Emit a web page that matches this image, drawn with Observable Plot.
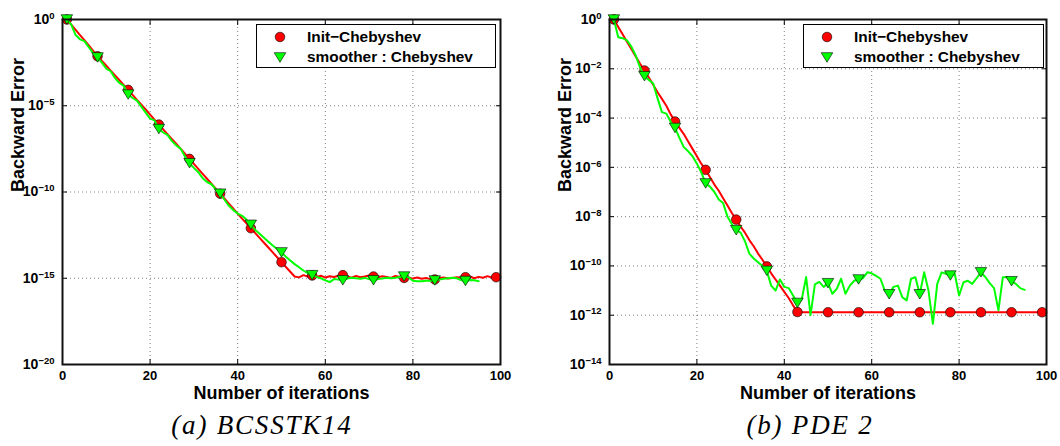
<!DOCTYPE html>
<html>
<head>
<meta charset="utf-8">
<script src="https://cdn.jsdelivr.net/npm/d3@7"></script>
<script src="https://cdn.jsdelivr.net/npm/@observablehq/plot@0.6"></script>
<style>
  body { margin: 0; background: #fff; }
  #root { position: relative; width: 1060px; height: 446px; overflow: hidden; font-family: "Liberation Sans", Arial, sans-serif; }
  .chart { position: absolute; top: 0; }
  .legend { position: absolute; border: 1px solid #000; background: #fff; box-sizing: border-box; height: 44px; font-weight: bold; font-size: 15.4px; }
  .legend .row { position: absolute; left: 0; height: 20px; line-height: 20px; white-space: nowrap; }
  .legend svg { position: absolute; top: 0; }
  .caption { position: absolute; font-family: "Liberation Serif", "DejaVu Serif", serif; font-style: italic; font-size: 27px; letter-spacing: 1.8px; text-align: center; width: 320px; line-height: 30px; white-space: nowrap; }
</style>
</head>
<body>
<div id="root"></div>
<script>
// ---------------- data ----------------
const xTicks = [0, 20, 40, 60, 80, 100];
const yTicksA = [1e-20, 1e-15, 1e-10, 1e-5, 1];
const yTicksB = [1e-14, 1e-12, 1e-10, 1e-8, 1e-6, 1e-4, 1e-2, 1];
const markerIters = [1, 8, 15, 22, 29, 36, 43, 50, 57, 64, 71, 78, 85, 92, 99];
const seriesNames = ["Init\u2212Chebyshev", "smoother : Chebyshev"];
const captions = ["(a) BCSSTK14", "(b) PDE 2"];

// log10 of backward error, iterations 1..n
// (a) BCSSTK14
const initChebA = [0, -0.3, -0.6, -0.9, -1.2, -1.5, -1.82, -2.13, -2.4, -2.68,
  -2.96, -3.24, -3.52, -3.8, -4.08, -4.37, -4.66, -4.94, -5.22, -5.51,
  -5.8, -6.09, -6.37, -6.66, -6.94, -7.22, -7.5, -7.79, -8.08, -8.37,
  -8.66, -8.95, -9.23, -9.52, -9.81, -10.1, -10.39, -10.67, -10.96, -11.25,
  -11.54, -11.82, -12.1, -12.38, -12.66, -12.94, -13.22, -13.5, -13.78, -14.07,
  -14.35, -14.62, -14.9, -14.95, -14.82, -14.9, -14.84, -14.92, -14.85, -14.96,
  -14.88, -14.93, -14.86, -14.82, -14.9, -14.97, -14.86, -14.94, -14.9, -14.84,
  -14.9, -14.95, -14.88, -14.93, -14.98, -14.87, -14.93, -14.98, -14.95, -15.02,
  -14.96, -15.03, -14.99, -15.05, -15.07, -15.0, -14.96, -15.02, -14.98, -14.94,
  -14.97, -14.94, -14.9, -15.0, -14.92, -14.97, -14.88, -14.95, -14.94];
const smootherA = [0, -0.3, -0.9, -1.15, -1.25, -1.6, -1.95, -2.2, -2.5, -2.85,
  -3.0, -3.4, -3.68, -3.85, -4.35, -4.55, -4.7, -5.05, -5.4, -5.75,
  -5.85, -6.35, -6.55, -6.7, -7.05, -7.3, -7.5, -7.95, -8.33, -8.6,
  -8.85, -9.2, -9.42, -9.55, -9.85, -10.1, -10.45, -10.8, -11.05, -11.25,
  -11.38, -11.6, -11.9, -12.2, -12.42, -12.65, -12.88, -13.1, -13.3, -13.5,
  -13.75, -13.97, -14.18, -14.36, -14.55, -14.7, -14.82, -14.92, -15.0, -15.12,
  -15.22, -15.05, -15.08, -15.12, -15.02, -14.97, -15.0, -15.03, -14.98, -15.05,
  -15.12, -15.05, -15.02, -14.97, -15.0, -14.97, -14.93, -14.9, -14.94, -15.15,
  -15.17, -15.17, -15.15, -15.14, -15.13, -15.08, -15.03, -15.0, -14.97, -15.0,
  -15.1, -15.16, -15.1, -15.12, -15.17];
// (b) PDE 2
const initChebB = [0, -0.3, -0.6, -0.9, -1.2, -1.5, -1.8, -2.07, -2.35, -2.65,
  -2.95, -3.22, -3.5, -3.85, -4.14, -4.4, -4.65, -4.95, -5.25, -5.55,
  -5.85, -6.1, -6.4, -6.7, -6.95, -7.25, -7.55, -7.85, -8.12, -8.4,
  -8.65, -8.95, -9.2, -9.5, -9.75, -10.02, -10.3, -10.55, -10.8, -11.05,
  -11.3, -11.6, -11.87, -11.88, -11.88, -11.88, -11.88, -11.88, -11.88, -11.88,
  -11.88, -11.88, -11.88, -11.88, -11.88, -11.88, -11.88, -11.88, -11.88, -11.88,
  -11.88, -11.88, -11.88, -11.88, -11.88, -11.88, -11.88, -11.88, -11.88, -11.88,
  -11.88, -11.88, -11.88, -11.88, -11.88, -11.88, -11.88, -11.88, -11.88, -11.88,
  -11.88, -11.88, -11.88, -11.88, -11.88, -11.88, -11.88, -11.88, -11.88, -11.88,
  -11.88, -11.88, -11.88, -11.88, -11.88, -11.88, -11.88, -11.88, -11.88];
const smootherB = [0, -0.72, -0.76, -0.85, -1.1, -1.46, -1.95, -2.3, -2.45, -2.6,
  -3.2, -3.76, -3.82, -4.15, -4.4, -4.8, -5.18, -5.35, -5.55, -5.85,
  -6.2, -6.65, -6.78, -7.0, -7.3, -7.45, -8.0, -8.3, -8.55, -8.65,
  -9.0, -9.5, -9.7, -9.85, -10.0, -10.2, -10.8, -11.0, -10.55, -10.85,
  -10.9, -11.2, -11.5, -11.35, -10.45, -12.0, -10.75, -10.65, -10.85, -10.7,
  -11.13, -10.93, -10.52, -11.13, -10.8, -10.6, -10.55, -10.5, -10.26, -10.3,
  -10.4, -10.52, -11.0, -11.15, -10.85, -10.8, -11.27, -11.4, -10.52, -10.46,
  -11.15, -10.26, -11.0, -12.35, -10.73, -10.26, -10.32, -10.39, -10.32, -11.2,
  -10.66, -10.6, -10.73, -10.5, -10.26, -10.45, -10.7, -10.9, -11.8, -10.46,
  -10.46, -10.62, -10.73, -10.9, -10.97];

// ---------------- helpers ----------------
const toRows = (arr) => arr.map((e, i) => ({it: i + 1, v: Math.pow(10, e)}));
const onMarkers = (rows) => rows.filter(d => markerIters.includes(d.it));
const triDown = {
  draw(ctx, size) {
    const r = Math.sqrt(size / Math.PI);
    const w = r * 1.15, h = r * 0.95;
    ctx.moveTo(-w, -h);
    ctx.lineTo(w, -h);
    ctx.lineTo(0, h);
    ctx.closePath();
  }
};
const RED = "#ff0000", GREEN = "#00ff00";
const FONT = "'Liberation Sans', Arial, sans-serif";

function supFormat(d) {
  const e = Math.round(Math.log10(d));
  return "10^" + (e === 0 ? "0" : "\u2212" + Math.abs(e));
}

function makeChart({red, green, yTicks, yDomain, marginLeft, marginRight}) {
  const redRows = toRows(red), greenRows = toRows(green);
  const grid = {stroke: "#000", strokeOpacity: 0.5, strokeDasharray: "1,3", strokeWidth: 1};
  const svg = Plot.plot({
    width: 530,
    height: 410,
    marginLeft, marginRight,
    marginTop: 19,
    marginBottom: 46,
    style: {fontFamily: FONT, fontWeight: "bold", fontSize: "12.5px", background: "transparent", overflow: "visible", color: "#000"},
    x: {domain: [0, 100]},
    y: {type: "log", domain: yDomain},
    marks: [
      Plot.gridX(xTicks.slice(1, -1), grid),
      Plot.gridY(yTicks.slice(1, -1), grid),
      Plot.axisX(xTicks, {anchor: "bottom", tickSize: 0, tickPadding: 6, label: null, fontSize: 13, fontWeight: "bold"}),
      Plot.axisY(yTicks, {anchor: "left", tickSize: 0, tickPadding: 8, label: null, tickFormat: supFormat, fontSize: 14, fontWeight: "bold"}),
      Plot.axisX(xTicks, {anchor: "bottom", tickSize: -5, tickFormat: () => "", label: null, strokeWidth: 1}),
      Plot.axisX(xTicks, {anchor: "top", tickSize: -5, tickFormat: () => "", label: null, strokeWidth: 1}),
      Plot.axisY(yTicks, {anchor: "left", tickSize: -5, tickFormat: () => "", label: null, strokeWidth: 1}),
      Plot.axisY(yTicks, {anchor: "right", tickSize: -5, tickFormat: () => "", label: null, strokeWidth: 1}),
      Plot.text(["Number of iterations"], {frameAnchor: "bottom", dy: 29, lineAnchor: "middle", fontSize: 18, fontWeight: "bold"}),
      Plot.text(["Backward Error"], {frameAnchor: "left", dx: -44, rotate: -90, lineAnchor: "middle", fontSize: 18, fontWeight: "bold"}),
      Plot.line(redRows, {x: "it", y: "v", stroke: RED, strokeWidth: 2}),
      Plot.dot(onMarkers(redRows), {x: "it", y: "v", r: 4.8, fill: RED, stroke: "#000", strokeWidth: 0.6, symbol: "circle"}),
      Plot.line(greenRows, {x: "it", y: "v", stroke: GREEN, strokeWidth: 2}),
      Plot.dot(onMarkers(greenRows), {x: "it", y: "v", r: 5, fill: GREEN, stroke: "#000", strokeWidth: 0.6, symbol: triDown}),
      Plot.frame({stroke: "#111", strokeWidth: 2})
    ]
  });
  // render exponent as superscript
  svg.querySelectorAll('[aria-label="y-axis tick label"] text').forEach(t => {
    const s = t.textContent;
    if (!s.includes("^")) return;
    const [base, exp] = s.split("^");
    t.textContent = base;
    const ts = document.createElementNS("http://www.w3.org/2000/svg", "tspan");
    ts.setAttribute("dy", "-0.55em");
    ts.setAttribute("font-size", "9.5");
    ts.textContent = exp;
    t.appendChild(ts);
  });
  return svg;
}

function makeLegend(left, width) {
  const div = document.createElement("div");
  div.className = "legend";
  div.style.left = left + "px";
  div.style.top = "24px";
  div.style.width = width + "px";
  const rows = [
    {name: seriesNames[0], type: "circle"},
    {name: seriesNames[1], type: "tri"}
  ];
  rows.forEach((r, i) => {
    const row = document.createElement("div");
    row.className = "row";
    row.style.top = (2 + i * 20) + "px";
    row.style.left = "0px";
    row.style.width = "100%";
    const icon = r.type === "circle"
      ? `<svg width="40" height="20" style="left:8px"><circle cx="15" cy="10" r="4.8" fill="${RED}" stroke="#000" stroke-width="0.6"/></svg>`
      : `<svg width="40" height="20" style="left:8px"><path d="M9.2,5.7L20.8,5.7L15,15.3Z" fill="${GREEN}" stroke="#000" stroke-width="0.6"/></svg>`;
    row.innerHTML = icon + `<span style="position:absolute;left:50px;top:0">${r.name}</span>`;
    div.appendChild(row);
  });
  return div;
}

const root = document.getElementById("root");

const chartA = makeChart({red: initChebA, green: smootherA, yTicks: yTicksA, yDomain: [1e-20, 1], marginLeft: 62, marginRight: 30});
chartA.classList.add("chart");
chartA.style.left = "0px";
root.appendChild(chartA);

const chartB = makeChart({red: initChebB, green: smootherB, yTicks: yTicksB, yDomain: [1e-14, 1], marginLeft: 79, marginRight: 14});
chartB.classList.add("chart");
chartB.style.left = "530px";
root.appendChild(chartB);

root.appendChild(makeLegend(256, 240));
root.appendChild(makeLegend(803, 241));

[[262 - 160, captions[0]], [810 - 160, captions[1]]].forEach(([left, text]) => {
  const c = document.createElement("div");
  c.className = "caption";
  c.style.left = left + "px";
  c.style.top = "410px";
  c.textContent = text;
  root.appendChild(c);
});
</script>
</body>
</html>
